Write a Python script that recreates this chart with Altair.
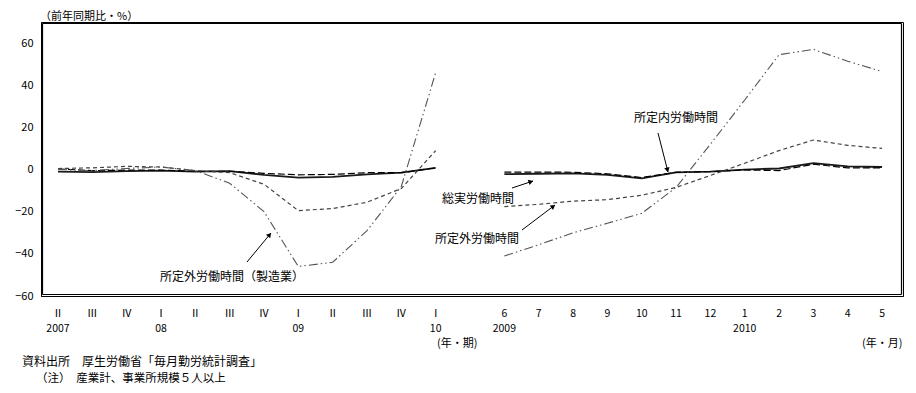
import math
import altair as alt
import pandas as pd

FONT = "Noto Sans CJK JP"

# ---------------- data ----------------
quarter_labels = ["Ⅱ", "Ⅲ", "Ⅳ", "Ⅰ", "Ⅱ", "Ⅲ", "Ⅳ", "Ⅰ", "Ⅱ", "Ⅲ", "Ⅳ", "Ⅰ"]
quarter_years = ["2007", "", "", "08", "", "", "", "09", "", "", "", "10"]
month_labels = ["6", "7", "8", "9", "10", "11", "12", "1", "2", "3", "4", "5"]
month_years = ["2009", "", "", "", "", "", "", "2010", "", "", "", ""]

# quarterly (2007 II - 2010 I)
total_q = [-1.0, -1.2, -0.8, -0.5, -1.0, -0.8, -2.5, -3.8, -3.5, -2.3, -1.5, 0.8]
scheduled_q = [0.3, -0.5, -0.3, -0.3, -0.8, -0.8, -1.8, -2.5, -2.3, -1.5, -1.5, 0.8]
overtime_q = [0.5, 0.8, 1.5, 1.2, -0.5, -1.5, -7.0, -19.5, -18.5, -15.5, -9.0, 9.0]
manuf_q = [0.0, -0.5, 0.5, 1.2, -0.5, -6.5, -20.0, -46.0, -44.0, -29.0, -8.0, 46.0]

# monthly (2009.6 - 2010.5)
total_m = [-2.2, -2.0, -1.8, -2.5, -4.2, -1.3, -1.0, 0.0, 0.5, 3.0, 1.5, 1.2]
scheduled_m = [-1.2, -1.2, -1.3, -2.0, -3.8, -1.3, -1.0, -0.2, -0.5, 2.5, 0.8, 0.8]
overtime_m = [-17.6, -16.5, -15.0, -14.3, -12.2, -8.5, -2.8, 3.0, 9.0, 14.0, 11.5, 10.0]
manuf_m = [-41.0, -35.7, -30.0, -25.5, -20.8, -8.5, 12.0, 33.0, 54.5, 57.0, 51.4, 46.5]

series_names = ["総実労働時間", "所定内労働時間", "所定外労働時間", "所定外労働時間（製造業）"]
q_values = [total_q, scheduled_q, overtime_q, manuf_q]
m_values = [total_m, scheduled_m, overtime_m, manuf_m]

q_pos = list(range(0, 12))
m_pos = list(range(13, 25))

rows = []
for name, qv, mv in zip(series_names, q_values, m_values):
    for p, v in zip(q_pos, qv):
        rows.append({"pos": p, "value": v, "series": name, "panel": "q"})
    for p, v in zip(m_pos, mv):
        rows.append({"pos": p, "value": v, "series": name, "panel": "m"})
df = pd.DataFrame(rows)

# ---------------- layout ----------------
PLOT_W, PLOT_H = 862, 274
X0, Y0 = 41, 22  # page position of plot origin

X_MIN, X_MAX = -0.495, 24.61
Y_MIN, Y_MAX = -60, 70
xscale = alt.Scale(domain=[X_MIN, X_MAX], nice=False, zero=False)
yscale = alt.Scale(domain=[Y_MIN, Y_MAX], nice=False, zero=False)

styles = {
    "総実労働時間": dict(color="#1a1a1a", strokeWidth=1.8),
    "所定内労働時間": dict(color="#000000", strokeWidth=1.2, strokeDash=[7, 3]),
    "所定外労働時間": dict(color="#444444", strokeWidth=1.2, strokeDash=[4, 3]),
    "所定外労働時間（製造業）": dict(color="#555555", strokeWidth=1.1,
                              strokeDash=[9, 3, 1.5, 3, 1.5, 3]),
}

layers = []
first = True
for name in series_names:
    sub = df[df["series"] == name]
    if first:
        yenc = alt.Y("value:Q", scale=yscale,
                     axis=alt.Axis(values=[-60, -40, -20, 0, 20, 40, 60], tickSize=0,
                                   domain=True, domainColor="black", domainWidth=1,
                                   grid=False, labelPadding=8,
                                   labelFont=FONT, labelFontSize=11, labelColor="black",
                                   title=None))
        xenc = alt.X("pos:Q", scale=xscale,
                     axis=alt.Axis(domain=True, domainColor="black", domainWidth=1,
                                   labels=False, ticks=False, grid=False, title=None))
        first = False
    else:
        yenc = alt.Y("value:Q", scale=yscale)
        xenc = alt.X("pos:Q", scale=xscale)
    layers.append(
        alt.Chart(sub).mark_line(**styles[name]).encode(
            x=xenc,
            y=yenc,
            detail="panel:N",
        )
    )

# plot frame: four rules just inside the plot area (pixel space)
frame = pd.DataFrame([
    {"fx1": 1.5, "fy1": 1.5, "fx2": PLOT_W - 1.5, "fy2": 1.5},
    {"fx1": 1.5, "fy1": PLOT_H - 1.5, "fx2": PLOT_W - 1.5, "fy2": PLOT_H - 1.5},
    {"fx1": 1.5, "fy1": 1.5, "fx2": 1.5, "fy2": PLOT_H - 1.5},
    {"fx1": PLOT_W - 1.5, "fy1": 1.5, "fx2": PLOT_W - 1.5, "fy2": PLOT_H - 1.5},
])
layers.append(
    alt.Chart(frame).mark_rule(color="black", strokeWidth=1.2).encode(
        x=alt.X("fx1:Q", scale=None), y=alt.Y("fy1:Q", scale=None),
        x2="fx2:Q", y2="fy2:Q")
)

# x-axis category labels
lab_rows = []
for p, l, yv in zip(q_pos, quarter_labels, quarter_years):
    lab_rows.append({"pos": p, "lab": l, "yr": yv})
for p, l, yv in zip(m_pos, month_labels, month_years):
    lab_rows.append({"pos": p, "lab": l, "yr": yv})
labdf = pd.DataFrame(lab_rows)

layers.append(
    alt.Chart(labdf).mark_text(font=FONT, fontSize=10.5, color="black", baseline="middle").encode(
        x=alt.X("pos:Q", scale=xscale), y=alt.value(314 - Y0), text="lab:N")
)
layers.append(
    alt.Chart(labdf).mark_text(font=FONT, fontSize=10.5, color="black", baseline="middle").encode(
        x=alt.X("pos:Q", scale=xscale), y=alt.value(329 - Y0), text="yr:N")
)

# free texts (page pixel positions converted to plot-local)
texts = pd.DataFrame([
    {"x": 40, "y": 17, "t": "（前年同期比・%）", "s": 11},
    {"x": 437, "y": 344, "t": "(年・期)", "s": 11},
    {"x": 862, "y": 344, "t": "(年・月)", "s": 11},
    {"x": 22, "y": 362, "t": "資料出所　厚生労働省「毎月勤労統計調査」", "s": 12},
    {"x": 36, "y": 379, "t": "（注）　産業計、事業所規模５人以上", "s": 11.5},
    {"x": 160, "y": 277, "t": "所定外労働時間（製造業）", "s": 12},
    {"x": 634, "y": 118, "t": "所定内労働時間", "s": 12},
    {"x": 442, "y": 199, "t": "総実労働時間", "s": 12},
    {"x": 435, "y": 239, "t": "所定外労働時間", "s": 12},
])
texts["lx"] = texts["x"] - X0
texts["ly"] = texts["y"] - Y0
for s in sorted(texts["s"].unique()):
    layers.append(
        alt.Chart(texts[texts["s"] == s]).mark_text(font=FONT, fontSize=float(s), color="black",
                                                    align="left", baseline="middle").encode(
            x=alt.X("lx:Q", scale=None), y=alt.Y("ly:Q", scale=None), text="t:N")
    )

# arrows
arrows = pd.DataFrame([
    {"x1": 247, "y1": 262, "x2": 271, "y2": 233},
    {"x1": 658, "y1": 133, "x2": 668, "y2": 172},
    {"x1": 512, "y1": 188, "x2": 533, "y2": 181},
    {"x1": 522, "y1": 230, "x2": 555, "y2": 205},
])
for c in ["x1", "x2"]:
    arrows[c] = arrows[c] - X0
for c in ["y1", "y2"]:
    arrows[c] = arrows[c] - Y0
angles, hx, hy = [], [], []
for _, r in arrows.iterrows():
    dx, dy = r.x2 - r.x1, r.y2 - r.y1
    L = math.hypot(dx, dy)
    ang = math.degrees(math.atan2(dx, -dy)) % 360
    angles.append(ang)
    hx.append(r.x2 - dx / L * 3)
    hy.append(r.y2 - dy / L * 3)
arrows["ang"] = angles
arrows["hx"] = hx
arrows["hy"] = hy

layers.append(
    alt.Chart(arrows).mark_rule(color="black", strokeWidth=1).encode(
        x=alt.X("x1:Q", scale=None), y=alt.Y("y1:Q", scale=None),
        x2="x2:Q", y2="y2:Q")
)
layers.append(
    alt.Chart(arrows).mark_point(shape="triangle", filled=True, color="black", size=30,
                                 opacity=1).encode(
        x=alt.X("hx:Q", scale=None), y=alt.Y("hy:Q", scale=None),
        angle=alt.Angle("ang:Q", scale=None))
)

chart = alt.layer(*layers).properties(
    width=PLOT_W, height=PLOT_H,
    background="white",
    autosize=alt.AutoSizeParams(type="none"),
    padding={"left": X0 - 8, "top": Y0 - 8, "right": 5, "bottom": 89},
).configure_view(stroke="black", strokeWidth=1)

chart.save("out.html", embed_options={"renderer": "svg", "actions": False})
